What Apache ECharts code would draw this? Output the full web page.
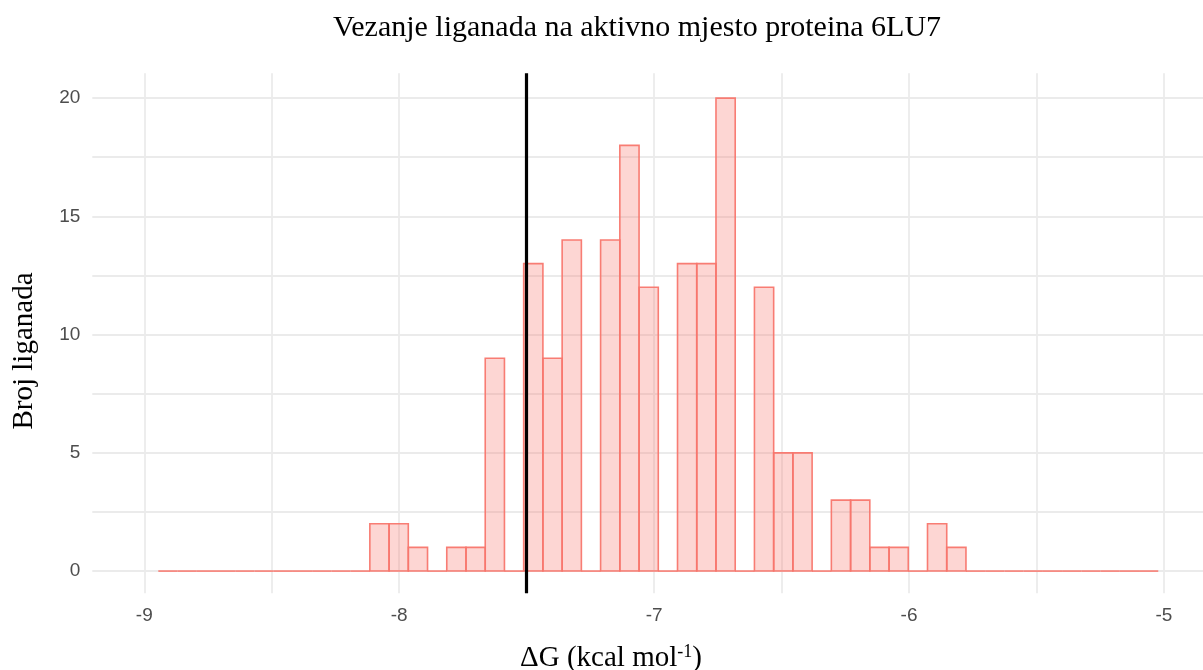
<!DOCTYPE html>
<html>
<head>
<meta charset="utf-8">
<script src="https://cdn.jsdelivr.net/npm/echarts@6/dist/echarts.min.js"></script>
<style>html,body{margin:0;padding:0;background:#fff;}#c{width:1203px;height:670px;}</style>
</head>
<body>
<div id="c"></div>
<script>
// ---- data ----
const binStart = -8.945;          // left edge of first histogram bin (kcal/mol)
const binWidth = 0.07544;         // bin width (kcal/mol)
const counts = [0,0,0,0,0,0,0,0,0,0,0,
  2,2,1,0,1,1,9,0,13,9,14,0,14,18,12,0,13,13,20,0,12,5,5,0,3,3,1,1,0,2,1,
  0,0,0,0,0,0,0,0,0,0];
const xTicks = [-9,-8,-7,-6,-5];
const xMinorTicks = [-8.5,-7.5,-6.5,-5.5];
const yTicks = [0,5,10,15,20];
const yMinorTicks = [2.5,7.5,12.5,17.5];
const refLine = -7.5;
const titleText = 'Vezanje liganada na aktivno mjesto proteina 6LU7';
const xTitle = 'ΔG (kcal mol';
const xTitleSup = '-1';
const yTitle = 'Broj liganada';

// ---- build ----
const bins = counts.map((c, i) => [binStart + i*binWidth, binStart + (i+1)*binWidth, c]);
const gridColor = '#ebebeb';
const tickFont = {color:'#4d4d4d', fontSize:19, fontFamily:'Liberation Sans, Arial, sans-serif'};
const serif = 'Liberation Serif, Times New Roman, serif';
const barStroke = 'rgba(248,118,109,0.95)';

const gridLines = [];
xMinorTicks.forEach(v => gridLines.push({xAxis:v, lineStyle:{color:gridColor, width:1.8, type:'solid'}, label:{show:false}}));
yMinorTicks.forEach(v => gridLines.push({yAxis:v, lineStyle:{color:gridColor, width:1.8, type:'solid'}, label:{show:false}}));
xTicks.forEach(v => gridLines.push({xAxis:v, lineStyle:{color:gridColor, width:1.8, type:'solid'},
  label:{show:true, position:'start', distance:13, formatter:String(v), ...tickFont}}));
yTicks.forEach(v => gridLines.push({yAxis:v, lineStyle:{color:gridColor, width:1.8, type:'solid'},
  label:{show:true, position:'start', distance:12, formatter:String(v), ...tickFont}}));

const chart = echarts.init(document.getElementById('c'), null, {renderer:'canvas'});
chart.setOption({
  animation:false,
  backgroundColor:'#ffffff',
  grid:{left:92.3, top:73.3, right:0, bottom:76.7, containLabel:false},
  xAxis:{type:'value', min:-9.204, max:-4.8466, show:true,
    axisLine:{show:false}, axisTick:{show:false}, axisLabel:{show:false}, splitLine:{show:false}},
  yAxis:{type:'value', min:-0.94, max:21.05, show:true,
    axisLine:{show:false}, axisTick:{show:false}, axisLabel:{show:false}, splitLine:{show:false}},
  series:[
    {type:'line', data:[], z:1, silent:true,
      markLine:{z:1, silent:true, symbol:['none','none'], animation:false, data:gridLines}},
    {type:'custom', z:4, silent:true, data:bins, clip:false,
      renderItem:function(params, api){
        const x0 = api.value(0), x1 = api.value(1), c = api.value(2);
        const p0 = api.coord([x0, 0]);
        const p1 = api.coord([x1, c]);
        if (c === 0) {
          return {type:'line', z2:1,
            shape:{x1:p0[0], y1:p0[1], x2:p1[0], y2:p0[1]},
            style:{stroke:barStroke, lineWidth:1.6}};
        }
        return {type:'rect', z2:2,
          shape:{x:p0[0], y:p1[1], width:p1[0]-p0[0], height:p0[1]-p1[1]},
          style:{fill:'rgba(248,118,109,0.3)', stroke:barStroke, lineWidth:1.6}};
      }},
    {type:'line', data:[], z:10, silent:true,
      markLine:{z:10, silent:true, symbol:['none','none'], animation:false,
        data:[{xAxis:refLine, lineStyle:{color:'#000000', width:3.2, type:'solid'}, label:{show:false}}]}}
  ],
  graphic:[
    {type:'text', x:637, y:28, style:{text:titleText, fill:'#000', fontSize:30, fontFamily:serif, align:'center', verticalAlign:'middle'}},
    {type:'text', x:611, y:658, style:{text:xTitle + '{sup|' + xTitleSup + '}' + ')', fill:'#000', fontSize:29, fontFamily:serif,
      align:'center', verticalAlign:'middle',
      rich:{sup:{fontSize:18, fontFamily:serif, fill:'#000', verticalAlign:'top'}}}},
    {type:'text', x:24, y:351, rotation:Math.PI/2, style:{text:yTitle, fill:'#000', fontSize:29, fontFamily:serif, align:'center', verticalAlign:'middle'}}
  ]
});
</script>
</body>
</html>
